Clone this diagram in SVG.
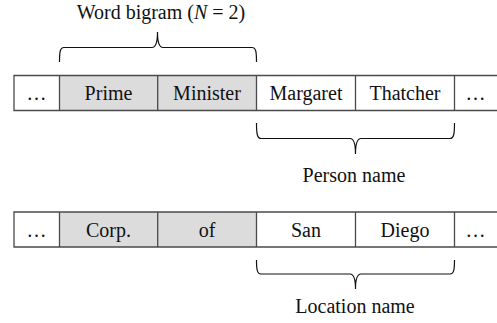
<svg xmlns="http://www.w3.org/2000/svg" width="497" height="323" viewBox="0 0 497 323" font-family="Liberation Serif, serif">
<style>
.t{font-size:20px;fill:#111;text-anchor:middle}
.g{fill:#dcdcdc;stroke:none}
.ln{stroke:#4a4a4a;stroke-width:1.3;fill:none}
.br{stroke:#111;stroke-width:1.2;fill:none}
</style>
<rect width="497" height="323" fill="#fff"/>
<g id="row1" font-family="Liberation Serif, serif">
<rect class="g" x="59.5" y="75.5" width="197" height="35"/>
<path class="ln" d="M497,75.5 H14 V110.5 H497 M59.5,75.5 V110.5 M157.7,75.5 V110.5 M256.5,75.5 V110.5 M355.5,75.5 V110.5 M454.5,75.5 V110.5"/>
<text class="t" x="36.5" y="100">…</text>
<text class="t" x="108.5" y="100">Prime</text>
<text class="t" x="207" y="100">Minister</text>
<text class="t" x="306" y="100">Margaret</text>
<text class="t" x="405" y="100">Thatcher</text>
<text class="t" x="475.5" y="100">…</text>
</g>
<g id="row2" font-family="Liberation Serif, serif">
<rect class="g" x="59.5" y="212" width="197" height="35"/>
<path class="ln" d="M497,212 H14 V247 H497 M59.5,212 V247 M157.7,212 V247 M256.5,212 V247 M355.5,212 V247 M454.5,212 V247"/>
<text class="t" x="36.5" y="237">…</text>
<text class="t" x="108.5" y="237">Corp.</text>
<text class="t" x="207" y="237">of</text>
<text class="t" x="306" y="237">San</text>
<text class="t" x="405" y="237">Diego</text>
<text class="t" x="475.5" y="237">…</text>
</g>
<g id="connectors">
<path class="br" d="M59.5,62 C59.5,52 60,47.5 64,47.5 L152,47.5 C156,47.5 157.5,40 157.5,32 C157.5,40 159,47.5 163,47.5 L252,47.5 C256,47.5 256.5,52 256.5,62"/>
<path class="br" d="M256.5,123 C256.5,133 257,138.5 261,138.5 L350,138.5 C354,138.5 355.5,146 355.5,154 C355.5,146 357,138.5 361,138.5 L450,138.5 C454,138.5 454.5,133 454.5,123"/>
<path class="br" d="M256.5,260 C256.5,269 257,274 261,274 L350,274 C354,274 355.5,281 355.5,289 C355.5,281 357,274 361,274 L450,274 C454,274 454.5,269 454.5,260"/>
</g>
<g id="labels" font-family="Liberation Serif, serif">
<text class="t" x="161" y="18.5">Word bigram (<tspan font-style="italic">N</tspan> = 2)</text>
<text class="t" x="354" y="181.5" font-size="19.5">Person name</text>
<text class="t" x="355" y="313">Location name</text>
</g>
</svg>
